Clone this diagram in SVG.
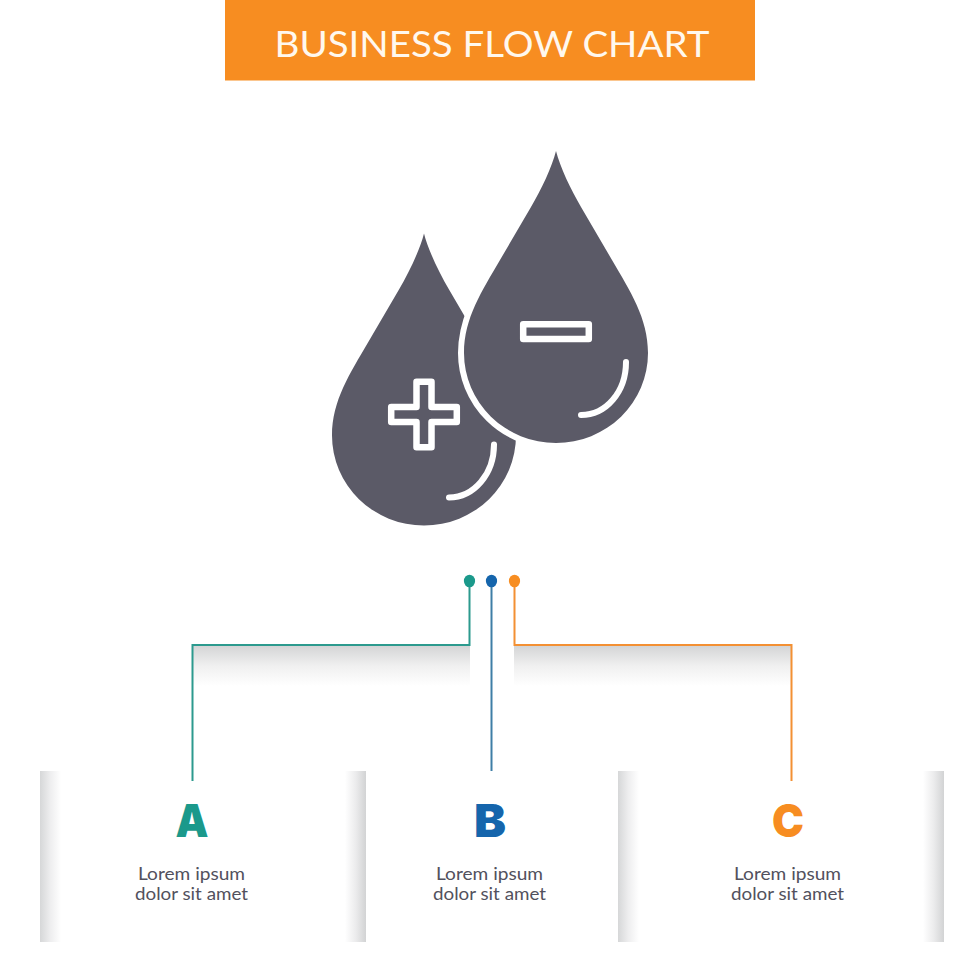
<svg xmlns="http://www.w3.org/2000/svg" width="980" height="980" viewBox="0 0 980 980">
<style>
.title{font-family:"Lato","Liberation Sans",sans-serif;font-size:37px;fill:#fff8ee;text-anchor:middle}
.letter{font-family:"Inter","Liberation Sans",sans-serif;font-weight:900;font-size:46px;text-anchor:middle}
.body{font-family:"Lato","Liberation Sans",sans-serif;font-size:18px;fill:#52515d;text-anchor:middle}
.mark{fill:none;stroke:#fff;stroke-width:6.500;stroke-linejoin:round}
.shine{fill:none;stroke:#fff;stroke-width:6;stroke-linecap:round}
.link{fill:none;stroke-width:2}
</style>
<defs>
<linearGradient id="fadeL" x1="0" x2="1" y1="0" y2="0"><stop offset="0" stop-color="#d6d7d8"/><stop offset="0.500" stop-color="#eeeeef"/><stop offset="1" stop-color="#fff"/></linearGradient>
<linearGradient id="fadeR" x1="1" x2="0" y1="0" y2="0"><stop offset="0" stop-color="#d2d3d4"/><stop offset="0.500" stop-color="#ececed"/><stop offset="1" stop-color="#fff"/></linearGradient>
<linearGradient id="fadeD" x1="0" x2="0" y1="0" y2="1"><stop offset="0" stop-color="#d4d5d6"/><stop offset="0.500" stop-color="#f0f0f0"/><stop offset="1" stop-color="#fff"/></linearGradient>
<path id="drop" d="M556 151C552 167 541 190 531 207L500 260C482 291 464 318 464 353A92 90 0 0 0 648 353C648 318 630 291 612 260L581 207C571 190 560 167 556 151Z"/>
</defs>
<rect width="980" height="980" fill="#fff"/>
<g id="header">
<rect x="225" y="0" width="530" height="80.500" fill="#f78d21"/>
<text class="title" x="492" y="57" textLength="435" lengthAdjust="spacingAndGlyphs">BUSINESS FLOW CHART</text>
</g>
<g id="icon">
<use href="#drop" x="-132" y="82.500" fill="#5b5a67"/>
<use href="#drop" fill="#fff" stroke="#fff" stroke-width="12"/>
<use href="#drop" fill="#5b5a67"/>
<path class="mark" d="M416.500 381.700H431.500V407H456.800V422H431.500V447.300H416.500V422H391.200V407H416.500Z"/>
<rect class="mark" x="523.200" y="324.200" width="65.600" height="14.900"/>
<path class="shine" d="M626 362C626 392 606 415 581 415"/>
<path class="shine" d="M494 444.500C494 474 474 497.500 449 497.500"/>
</g>
<g id="shadows">
<rect x="193" y="646" width="277" height="40" fill="url(#fadeD)"/>
<rect x="514" y="646" width="277" height="40" fill="url(#fadeD)"/>
</g>
<g id="connectors">
<path class="link" stroke="#2c9a8e" d="M192.500 781V645H469.500V581"/>
<path class="link" stroke="#3f7ea6" d="M491.500 581V771"/>
<path class="link" stroke="#f39033" d="M514.500 581V645H791.500V781"/>
<ellipse cx="469.500" cy="581" rx="5.600" ry="6.300" fill="#1b998b"/>
<ellipse cx="491.500" cy="581" rx="5.600" ry="6.300" fill="#1565ac"/>
<ellipse cx="514.500" cy="581" rx="5.600" ry="6.300" fill="#f78d21"/>
</g>
<g id="node-a">
<rect x="40" y="771" width="21" height="171" fill="url(#fadeL)"/>
<text class="letter" x="192" y="837" fill="#1b998b" textLength="33" lengthAdjust="spacingAndGlyphs">A</text>
<text class="body" x="191.500" y="880" textLength="107" lengthAdjust="spacingAndGlyphs">Lorem ipsum</text>
<text class="body" x="191.500" y="900" textLength="113" lengthAdjust="spacingAndGlyphs">dolor sit amet</text>
</g>
<g id="node-b">
<rect x="345" y="771" width="21" height="171" fill="url(#fadeR)"/>
<text class="letter" x="490" y="837" fill="#1565ac" textLength="32" lengthAdjust="spacingAndGlyphs">B</text>
<text class="body" x="489.500" y="880" textLength="107" lengthAdjust="spacingAndGlyphs">Lorem ipsum</text>
<text class="body" x="489.500" y="900" textLength="113" lengthAdjust="spacingAndGlyphs">dolor sit amet</text>
</g>
<g id="node-c">
<rect x="618" y="771" width="21" height="171" fill="url(#fadeL)"/>
<rect x="923" y="771" width="21" height="171" fill="url(#fadeR)"/>
<text class="letter" x="788" y="837" fill="#f78d21" textLength="32" lengthAdjust="spacingAndGlyphs">C</text>
<text class="body" x="787.500" y="880" textLength="107" lengthAdjust="spacingAndGlyphs">Lorem ipsum</text>
<text class="body" x="787.500" y="900" textLength="113" lengthAdjust="spacingAndGlyphs">dolor sit amet</text>
</g>
</svg>
